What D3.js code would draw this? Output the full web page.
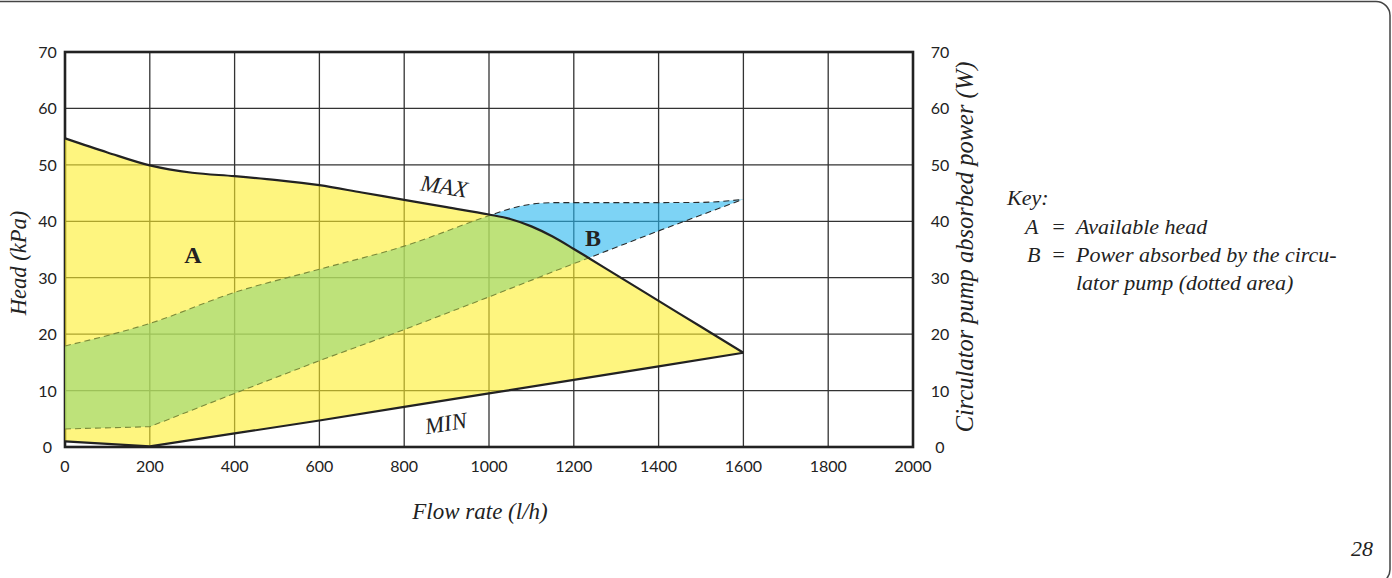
<!DOCTYPE html>
<html><head><meta charset="utf-8">
<script src="https://cdn.jsdelivr.net/npm/d3@7"></script>
<style>
html,body{margin:0;padding:0;background:#fff;}
svg{display:block;}
.tick-label{font-family:Lato,"Noto Sans",sans-serif;font-size:16px;font-weight:400;fill:#222;}
.serif{font-family:"Liberation Serif","Times New Roman",serif;font-style:italic;fill:#222;}
</style>
</head><body>
<svg id="chart" width="1392" height="578"></svg>
<script>
// ---- data (flow l/h, head kPa / power W) ----
const xTicks = [0,200,400,600,800,1000,1200,1400,1600,1800,2000];
const yTicks = [0,10,20,30,40,50,60,70];
const maxFlow = [0,100,200,300,400,500,600,700,800,900,1000,1050,1100,1150,1200,1235,1300,1400,1500,1600];
const maxHead = [54.7,52.2,49.9,48.6,48.0,47.3,46.4,45.1,43.8,42.5,41.2,40.4,39.1,37.3,35.1,33.5,30.5,25.9,21.3,16.7];
const minFlow = [0,200,400,600,800,1000,1200,1400,1600];
const minHead = [1.0,0.1,2.4,4.7,7.1,9.5,11.9,14.3,16.7];
const powUpFlow = [0,200,400,600,800,1000,1040,1075,1150,1300,1500,1600];
const powUpVal  = [17.9,21.9,27.4,31.5,35.6,41.0,42.0,42.7,43.3,43.3,43.35,43.9];
const powLowFlow = [0,200,400,600,800,1000,1200,1235,1400,1600];
const powLowVal  = [3.2,3.6,9.5,15.3,20.8,26.6,32.5,33.5,38.3,43.9];

const svg = d3.select("#chart");
const x = d3.scaleLinear().domain([0,2000]).range([65,913]);
const y = d3.scaleLinear().domain([0,70]).range([447,52]);

const maxPts = maxFlow.map((f,i)=>[f,maxHead[i]]);
const minPts = minFlow.map((f,i)=>[f,minHead[i]]);
const upPts = powUpFlow.map((f,i)=>[f,powUpVal[i]]);
const lowPts = powLowFlow.map((f,i)=>[f,powLowVal[i]]);

const curve = d3.curveMonotoneX;
const line = d3.line().x(d=>x(d[0])).y(d=>y(d[1])).curve(curve);
const lineLin = d3.line().x(d=>x(d[0])).y(d=>y(d[1]));

// page border
svg.append("rect").attr("x",-20).attr("y",1.5).attr("width",1410).attr("height",582)
  .attr("rx",14).attr("fill","none").attr("stroke","#444").attr("stroke-width",1.5);

// grid
const g = svg.append("g");
g.selectAll(".vg").data(xTicks).join("line")
  .attr("x1",d=>x(d)).attr("x2",d=>x(d)).attr("y1",y(0)).attr("y2",y(70))
  .attr("stroke","#333").attr("stroke-width",1.3);
g.selectAll(".hg").data(yTicks).join("line")
  .attr("x1",x(0)).attr("x2",x(2000)).attr("y1",d=>y(d)).attr("y2",d=>y(d))
  .attr("stroke","#333").attr("stroke-width",1.3);
g.append("rect").attr("x",x(0)).attr("y",y(70)).attr("width",x(2000)-x(0)).attr("height",y(0)-y(70))
  .attr("fill","none").attr("stroke","#222").attr("stroke-width",2.6);

// clips
const defs = svg.append("defs");
const belowArea = d3.area().x(d=>x(d[0])).y0(y(-1)).y1(d=>y(d[1])).curve(curve);
const aboveArea = d3.area().x(d=>x(d[0])).y0(y(71)).y1(d=>y(d[1])).curve(curve);
defs.append("clipPath").attr("id","below").append("path").attr("d",belowArea(maxPts));
defs.append("clipPath").attr("id","above").append("path").attr("d",aboveArea(maxPts));

// yellow head area between MIN and MAX
const yellowPath = line(maxPts) + "L" + minPts.slice().reverse().map(d=>x(d[0])+","+y(d[1])).join("L") + "Z";
svg.append("path").attr("d",yellowPath).attr("fill","#fdee2a").attr("fill-opacity",0.6);

// power band
const bandPath = line(upPts) + "L" + lowPts.slice().reverse().map(d=>x(d[0])+","+y(d[1])).join("L") + "Z";
svg.append("path").attr("d",bandPath).attr("clip-path","url(#below)")
  .attr("fill","#93d577").attr("fill-opacity",0.6);
svg.append("path").attr("d",bandPath).attr("clip-path","url(#above)")
  .attr("fill","#26b6ee").attr("fill-opacity",0.6);

// dashed outlines
[["below","#7b8a3a"],["above","#2a2a2a"]].forEach(([c,col])=>{
  svg.append("path").attr("d",line(upPts)).attr("clip-path",`url(#${c})`)
    .attr("fill","none").attr("stroke",col).attr("stroke-width",1.1).attr("stroke-dasharray","6,4");
  svg.append("path").attr("d",lineLin(lowPts)).attr("clip-path",`url(#${c})`)
    .attr("fill","none").attr("stroke",col).attr("stroke-width",1.1).attr("stroke-dasharray","6,4");
});

// MAX & MIN curves
svg.append("path").attr("d",line(maxPts)).attr("fill","none").attr("stroke","#222").attr("stroke-width",2.2);
svg.append("path").attr("d",lineLin(minPts)).attr("fill","none").attr("stroke","#222").attr("stroke-width",2.2);

// tick labels
svg.selectAll(".xl").data(xTicks).join("text").attr("class","tick-label")
  .attr("x",d=>x(d)).attr("y",472).attr("text-anchor","middle").text(d=>d);
svg.selectAll(".yl").data(yTicks).join("text").attr("class","tick-label")
  .attr("x",47.5).attr("y",d=>y(d)+6).attr("text-anchor","middle").text(d=>d);
svg.selectAll(".yr").data(yTicks).join("text").attr("class","tick-label")
  .attr("x",940).attr("y",d=>y(d)+6).attr("text-anchor","middle").text(d=>d);

// axis titles
svg.append("text").attr("class","serif").attr("font-size",22.5)
  .attr("transform","translate(26,263) rotate(-90)").attr("text-anchor","middle").text("Head (kPa)");
svg.append("text").attr("class","serif").attr("font-size",24.5)
  .attr("transform","translate(973,247) rotate(-90)").attr("text-anchor","middle").text("Circulator pump absorbed power (W)");
svg.append("text").attr("class","serif").attr("font-size",23)
  .attr("x",480).attr("y",519).attr("text-anchor","middle").text("Flow rate (l/h)");

// curve labels
svg.append("text").attr("class","serif").attr("font-size",23)
  .attr("transform","translate(443,194) rotate(9)").attr("text-anchor","middle").text("MAX");
svg.append("text").attr("class","serif").attr("font-size",23)
  .attr("transform","translate(447,431) rotate(-9)").attr("text-anchor","middle").text("MIN");
svg.append("text").attr("font-family","'Liberation Serif',serif").attr("font-weight","bold").attr("font-size",24).attr("fill","#222")
  .attr("x",193).attr("y",263).attr("text-anchor","middle").text("A");
svg.append("text").attr("font-family","'Liberation Serif',serif").attr("font-weight","bold").attr("font-size",24).attr("fill","#222")
  .attr("x",593).attr("y",246).attr("text-anchor","middle").text("B");

// key
const key = svg.append("g");
const kt = (tx,ty,s,upright)=>key.append("text").attr("class","serif").attr("font-size",22)
  .attr("x",tx).attr("y",ty).attr("font-style",upright?"normal":null).text(s);
kt(1007,205,"Key:");
kt(1025,234,"A");
kt(1051,234,"=",true);
kt(1076,234,"Available head");
kt(1027,262,"B");
kt(1051,262,"=",true);
kt(1076,262,"Power absorbed by the circu-");
kt(1076,290,"lator pump (dotted area)");

// page number
svg.append("text").attr("class","serif").attr("font-size",22).attr("x",1373).attr("y",556)
  .attr("text-anchor","end").text("28");
</script>
</body></html>
